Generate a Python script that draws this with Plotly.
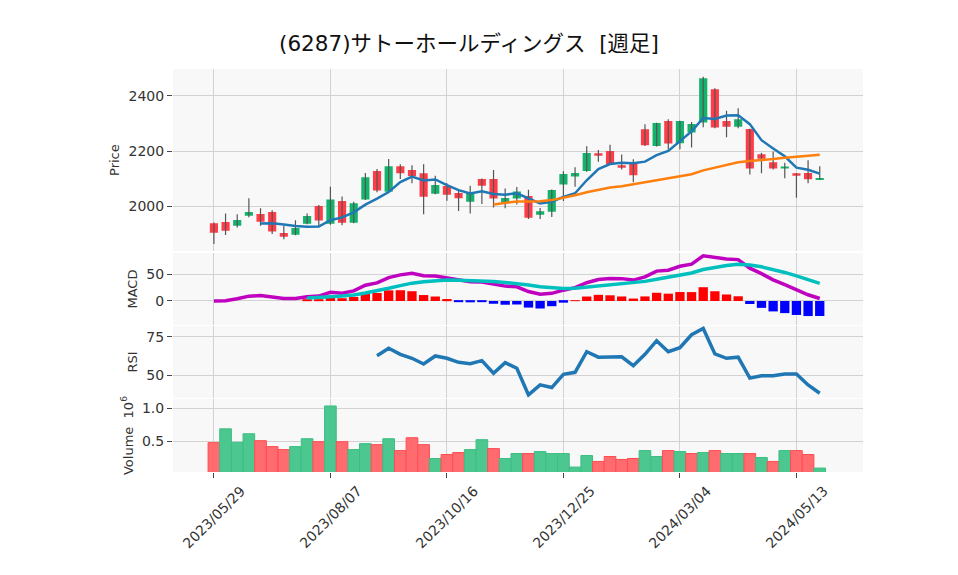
import pandas as pd
import numpy as np
import plotly.graph_objects as go
from plotly.subplots import make_subplots

# ---------------- data (weekly) ----------------
first_week = "2023-05-29"
n_weeks = 53
dates = pd.date_range(first_week, periods=n_weeks, freq="7D")

open_ = [1937, 1942, 1928, 1965, 1971, 1978, 1902, 1896, 1936, 2000,
         1936, 2018, 1939, 2024, 2127, 2052, 2145, 2131, 2119, 2045,
         2073, 2047, 2016, 2098, 2098, 2010, 2027, 2036, 1968, 1979,
         2078, 2107, 2127, 2192, 2200, 2148, 2155, 2279, 2218, 2309,
         2228, 2267, 2304, 2424, 2309, 2288, 2280, 2188, 2159, 2136,
         2119, 2120, 2097]
high = [1940, 1973, 1970, 2028, 1992, 1985, 1928, 1948, 1973, 2004,
        2070, 2035, 2016, 2120, 2135, 2171, 2152, 2148, 2152, 2110,
        2083, 2056, 2074, 2100, 2131, 2064, 2069, 2059, 1993, 2060,
        2126, 2141, 2217, 2204, 2223, 2187, 2170, 2297, 2303, 2315,
        2310, 2305, 2470, 2428, 2346, 2355, 2281, 2194, 2198, 2157,
        2120, 2166, 2145]
low = [1862, 1895, 1922, 1959, 1928, 1898, 1879, 1894, 1934, 1928,
       1932, 1930, 1937, 2022, 2050, 2050, 2098, 2083, 1970, 2043,
       2019, 1982, 1973, 2007, 1995, 1992, 2006, 1953, 1953, 1960,
       2018, 2070, 2125, 2161, 2150, 2133, 2086, 2218, 2216, 2206,
       2206, 2213, 2286, 2283, 2250, 2283, 2115, 2119, 2133, 2101,
       2030, 2083, 2096]
close = [1903, 1910, 1949, 1978, 1943, 1907, 1888, 1920, 1964, 1947,
         2024, 1939, 2010, 2105, 2056, 2145, 2119, 2109, 2034, 2076,
         2041, 2028, 2048, 2074, 2027, 2029, 2053, 1957, 1981, 2058,
         2116, 2120, 2193, 2183, 2152, 2139, 2112, 2221, 2302, 2227,
         2309, 2298, 2464, 2285, 2288, 2315, 2136, 2172, 2136, 2144,
         2110, 2097, 2101]
# volume in millions of shares
volume = [0.48, 0.69, 0.485, 0.615, 0.51, 0.42, 0.375, 0.42, 0.54, 0.495,
          1.036, 0.495, 0.375, 0.465, 0.45, 0.54, 0.36, 0.555, 0.45, 0.24,
          0.30, 0.33, 0.375, 0.525, 0.39, 0.24, 0.315, 0.315, 0.345, 0.315,
          0.315, 0.11, 0.285, 0.195, 0.27, 0.225, 0.24, 0.36, 0.27, 0.36,
          0.345, 0.315, 0.33, 0.36, 0.315, 0.315, 0.315, 0.255, 0.195, 0.36,
          0.36, 0.30, 0.095]
# RSI(14) (first 14 weeks have no value)
rsi_values = [62.7, 67.5, 63.6, 61.0, 57.3, 62.5, 61.0, 58.4, 57.5, 59.5,
              51.3, 58.2, 54.5, 37.2, 43.7, 42.0, 50.6, 51.9, 65.3, 61.7,
              61.9, 62.0, 56.2, 63.6, 72.4, 65.3, 67.9, 76.3, 80.4, 63.8,
              61.0, 61.7, 48.1, 49.7, 49.7, 50.8, 50.8, 43.7, 38.3]
tick_weeks = [0, 10, 20, 30, 40, 50]

# ---------------- derived series ----------------
o = np.array(open_, float)
h = np.array(high, float)
l = np.array(low, float)
c = pd.Series(close, dtype=float)
ma5 = c.rolling(5).mean()
ma25 = c.rolling(25).mean()
ema12 = c.ewm(span=12, adjust=False).mean()
ema26 = c.ewm(span=26, adjust=False).mean()
macd = ema12 - ema26
signal = macd.ewm(span=9, adjust=False).mean()
signal.iloc[:8] = np.nan
hist = macd - signal
rsi = [None] * (n_weeks - len(rsi_values)) + rsi_values

GREEN = "#13B36B"
RED = "#FF3D48"
body_colors = [GREEN if cc >= oo else RED for oo, cc in zip(o, c)]
diff = c.diff()
vol_fill = ["#4CC790" if d > 0 else "#FF6B6E" for d in diff]
vol_line = ["#3BBF82" if d > 0 else "#FF4D52" for d in diff]
hist_colors = ["#FF0000" if v >= 0 else "#0000FF" for v in hist.fillna(0)]

WEEK_MS = 7 * 24 * 3600 * 1000

fig = make_subplots(rows=4, cols=1, shared_xaxes=True, vertical_spacing=0.004)

# wicks
wx, wy = [], []
for d, lo, hi in zip(dates, l, h):
    wx += [d, d, None]
    wy += [lo, hi, None]
fig.add_trace(go.Scatter(x=wx, y=wy, mode="lines",
                         line=dict(color="#555555", width=1.2),
                         hoverinfo="skip"), row=1, col=1)
# bodies
fig.add_trace(go.Bar(x=dates, base=np.minimum(o, c),
                     y=np.maximum(np.abs(c.values - o), 1.5),
                     width=0.7 * WEEK_MS, marker_color=body_colors,
                     marker_line_width=0), row=1, col=1)
fig.add_trace(go.Scatter(x=dates, y=ma5, mode="lines",
                         line=dict(color="#1f77b4", width=2.5)), row=1, col=1)
fig.add_trace(go.Scatter(x=dates, y=ma25, mode="lines",
                         line=dict(color="#ff7f0e", width=2.5)), row=1, col=1)

# MACD
fig.add_trace(go.Bar(x=dates, y=hist, width=0.8 * WEEK_MS,
                     marker_color=hist_colors, marker_line_width=0), row=2, col=1)
fig.add_trace(go.Scatter(x=dates, y=macd, mode="lines",
                         line=dict(color="#BF00BF", width=3.5)), row=2, col=1)
fig.add_trace(go.Scatter(x=dates, y=signal, mode="lines",
                         line=dict(color="#00BFBF", width=3.5)), row=2, col=1)

# RSI
fig.add_trace(go.Scatter(x=dates, y=rsi, mode="lines",
                         line=dict(color="#1f77b4", width=3.5)), row=3, col=1)

# Volume
fig.add_trace(go.Bar(x=dates, y=volume, width=WEEK_MS,
                     marker=dict(color=vol_fill, line=dict(color=vol_line, width=1))),
              row=4, col=1)

FONT = "DejaVu Sans, Noto Sans CJK JP, sans-serif"
axis_common = dict(showgrid=True, gridcolor="#D2D2D2", gridwidth=1,
                   zeroline=False, showline=False, automargin=False,
                   tickcolor="#444", ticklen=5)
title_font = dict(size=13, color="#333", family=FONT)

tickvals = [dates[i] for i in tick_weeks]
ticktext = [dates[i].strftime("%Y/%m/%d") for i in tick_weeks]
xrange_ = ["2023-05-04 10:00", "2024-06-22"]
for r in range(1, 5):
    fig.update_xaxes(row=r, col=1, range=xrange_, tickvals=tickvals,
                     showticklabels=False,
                     ticks="outside" if r == 4 else "", **axis_common)

# rotated date labels centred under their ticks
for tv, tt in zip(tickvals, ticktext):
    fig.add_annotation(x=tv, xref="x4", y=-44.5 / 403, yref="paper",
                       text=tt, textangle=-45, showarrow=False,
                       xanchor="center", yanchor="middle",
                       font=dict(size=14, color="#333", family=FONT))

ytick_font = dict(size=14, color="#333", family=FONT)
fig.update_yaxes(row=1, col=1, domain=[0.548, 1.0], range=[1836, 2498],
                 tickvals=[2000, 2200, 2400], ticks="outside", tickfont=ytick_font,
                 title=dict(text="Price", font=title_font, standoff=5), **axis_common)
fig.update_yaxes(row=2, col=1, domain=[0.365, 0.543], range=[-45, 90],
                 tickvals=[0, 50], ticks="outside", tickfont=ytick_font,
                 title=dict(text="MACD", font=title_font, standoff=5), **axis_common)
fig.update_yaxes(row=3, col=1, domain=[0.184, 0.362], range=[35.3, 81.9],
                 tickvals=[50, 75], ticks="outside", tickfont=ytick_font,
                 title=dict(text="RSI", font=title_font, standoff=5), **axis_common)
fig.update_yaxes(row=4, col=1, domain=[0.0, 0.181], range=[0.035, 1.141],
                 tickvals=[0.5, 1.0], tickformat=".1f", ticks="outside", tickfont=ytick_font,
                 title=dict(text="Volume  10<sup>6</sup>", font=title_font, standoff=5),
                 **axis_common)

fig.update_layout(
    width=958, height=575,
    margin=dict(l=165, r=103, t=61, b=111),
    paper_bgcolor="white", plot_bgcolor="#F8F8F8",
    showlegend=False, barmode="overlay",
    font=dict(family=FONT, size=13, color="#333"),
    title=dict(text="(6287)サトーホールディングス \u00a0[週足]", x=461 / 958, xref="container",
               xanchor="center", y=1 - 35 / 575, yref="container", yanchor="middle",
               font=dict(size=21.5, color="#111", family=FONT)),
)

fig.write_html("out.html")
